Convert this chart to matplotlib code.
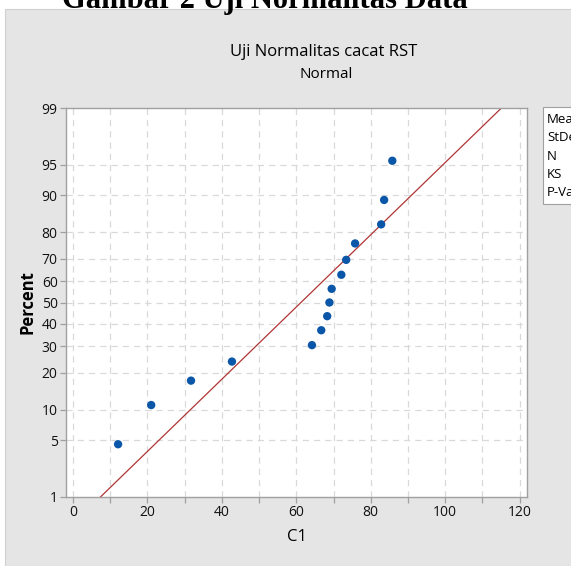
import numpy as np
import matplotlib
matplotlib.use("Agg")
import matplotlib.pyplot as plt
from matplotlib.patches import Rectangle
from statistics import NormalDist

# ---- data ----
c1_values = [12.1, 21.0, 31.7, 42.7, 64.2, 66.7, 68.3, 68.9, 69.5, 72.1, 73.4, 75.8, 82.8, 83.6, 85.8]
percent_values = [4.5, 11.0, 17.5, 24.0, 30.5, 37.0, 43.5, 50.0, 56.5, 63.0, 69.5, 76.0, 82.5, 89.0, 95.5]
y_ticks = [1, 5, 10, 20, 30, 40, 50, 60, 70, 80, 90, 95, 99]
x_ticks = [0, 20, 40, 60, 80, 100, 120]
legend_labels = ["Mean", "StDev", "N", "KS", "P-Value"]

title = "Uji Normalitas cacat RST"
subtitle = "Normal"
header = "Gambar 2 Uji Normalitas Data"

nd = NormalDist()
_ppf = np.vectorize(lambda p: nd.inv_cdf(min(max(p, 1e-6), 100 - 1e-6) / 100.0), otypes=[float])
_cdf = np.vectorize(lambda z: nd.cdf(z) * 100.0, otypes=[float])

def fwd(p):
    return _ppf(np.asarray(p, dtype=float))

def inv(z):
    return _cdf(np.asarray(z, dtype=float))

W, H = 571, 566
fig = plt.figure(figsize=(W / 100, H / 100), dpi=100)
fig.patch.set_facecolor("white")

bg = "#e5e5e5"
fig.patches.append(Rectangle((5 / W, 0), 1, 1 - 9 / H, transform=fig.transFigure,
                             facecolor=bg, edgecolor="#d0d0d0", lw=0.8, zorder=-2))

fig.text(62 / W, 1 - 8 / H, header, family="Liberation Serif", weight="bold",
         fontsize=22, ha="left", va="baseline", zorder=-1)

font = "Open Sans"
fig.text(324 / W, 1 - 56 / H, title, family=font, fontsize=12, ha="center", va="baseline")
fig.text(326 / W, 1 - 78 / H, subtitle, family=font, fontsize=11, ha="center", va="baseline")

ax = fig.add_axes([66 / W, 1 - 497 / H, 461 / W, 389 / H])
ax.set_facecolor("white")
ax.set_yscale("function", functions=(fwd, inv))
ax.set_ylim(1, 99)
ax.set_xlim(-1.9, 122)

ax.set_yticks(y_ticks)
ax.set_yticklabels([str(v) for v in y_ticks])
ax.yaxis.set_minor_locator(matplotlib.ticker.NullLocator())
ax.set_xticks(x_ticks)
ax.set_xticks(np.arange(10, 120, 20), minor=True)

grid_c = "#d9d9d9"
for v in y_ticks[1:-1]:
    ax.axhline(v, color=grid_c, lw=0.9, ls=(0, (5, 4)), zorder=0)
for v in range(0, 130, 10):
    ax.axvline(v, color=grid_c, lw=0.9, ls=(0, (5, 4)), zorder=0)

spine_c = "#a0a0a0"
for s in ax.spines.values():
    s.set_color(spine_c)
    s.set_linewidth(1.0)
ax.tick_params(axis="both", which="both", color=spine_c, length=4, width=0.9,
               labelsize=10, pad=2, labelcolor="#111111")
for lab in ax.get_xticklabels() + ax.get_yticklabels():
    lab.set_family(font)

# fitted normal line
mu = np.mean(c1_values)
sd = np.std(c1_values, ddof=1)
pline = np.linspace(0.5, 99.5, 200)
xline = mu + sd * fwd(pline)
ax.plot(xline, pline, color="#b03535", lw=0.9, zorder=2)

ax.scatter(c1_values, percent_values, s=36, color="#0a56a8", zorder=3, edgecolors="none")

ax.set_xlabel("C1", family=font, fontsize=12, labelpad=6)
ax.set_ylabel("Percent", family=font, fontsize=12, weight="bold", labelpad=4)

# legend box (cut off by the figure edge)
fig.patches.append(Rectangle((543 / W, 1 - 204 / H), 60 / W, 97 / H, transform=fig.transFigure,
                             facecolor="white", edgecolor="#a0a0a0", lw=0.8, zorder=1))
for i, lab in enumerate(legend_labels):
    fig.text(547 / W, 1 - (123 + 18.3 * i) / H, lab, family=font, fontsize=9.5,
             ha="left", va="baseline", zorder=2)

fig.savefig("out.png", dpi=100)
